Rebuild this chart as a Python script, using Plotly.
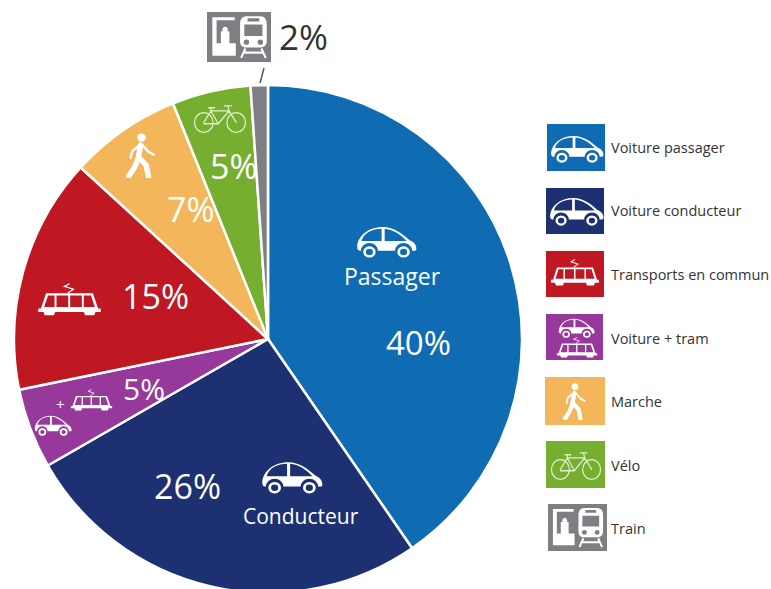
import base64
import plotly.graph_objects as go

W, H = 771, 593

# ---- data ----
categories = ["Voiture passager", "Voiture conducteur", "Transports en commun",
              "Voiture + tram", "Marche", "Vélo", "Train"]
pie_order = ["Voiture passager", "Voiture conducteur", "Voiture + tram",
             "Transports en commun", "Marche", "Vélo", "Train"]
drawn_share = [40.4, 26.3, 5.1, 15.0, 7.1, 5.0, 1.1]   # slice sizes as drawn
printed_pct = [40, 26, 5, 15, 7, 5, 2]                 # percentages as printed
colors = {"Voiture passager": "#0F6CB2", "Voiture conducteur": "#1D3172",
          "Voiture + tram": "#96399A", "Transports en commun": "#BF1823",
          "Marche": "#F4B65B", "Vélo": "#76AF2F", "Train": "#7E7F83"}
FONT = "Open Sans"

# ---- icons ----
def uri(inner, vb):
    svg = f'<svg xmlns="http://www.w3.org/2000/svg" viewBox="{vb}" preserveAspectRatio="none">{inner}</svg>'
    return "data:image/svg+xml;base64," + base64.b64encode(svg.encode()).decode()

CAR = uri('<path fill="#fff" fill-rule="evenodd" d="M2 36C4 18 20 2 44 2C62 2 76 14 88 26C95 29 99 34 99 42'
          'C99 45 96 45 92 45A14 14 0 0 0 64 45L36 45A14 14 0 0 0 8 45C4 45 2 44 2 36Z'
          'M9 27C13 12 27 5 42 5L42 27ZM47 5C60 6 74 16 83 27L47 27Z"/>'
          '<g fill="none" stroke="#fff" stroke-width="4.5"><circle cx="22" cy="47" r="8"/><circle cx="78" cy="47" r="8"/></g>',
          "0 0 100 58")
TRAM = uri('<g fill="none" stroke="#fff" stroke-width="1.8"><path d="M47 15L56 9L42 5L50 1"/></g>'
           '<path fill="#fff" fill-rule="evenodd" d="M14 15H86L94 37H98V42H90L88 47H74L72 42H28L26 47H12L10 42H2V37H6Z'
           'M17 18L11 35H27V18ZM30 18V35H48V18ZM51 18V35H69V18ZM72 18V35H89L83 18Z"/>',
           "0 0 100 48")
WALK = uri('<circle cx="20" cy="6" r="5.5" fill="#fff"/>'
           '<g fill="none" stroke="#fff" stroke-linecap="round" stroke-linejoin="round">'
           '<path stroke-width="7" d="M19 16L16 32L26 43L29 58"/>'
           '<path stroke-width="7" d="M16 33L11 46L3 58"/>'
           '<path stroke-width="3" d="M18 16L8 24L6 33M21 16L29 25L36 29"/></g>', "0 0 40 60")
BIKE = uri('<g fill="none" stroke="#E3F0CF" stroke-width="2" stroke-linejoin="round" stroke-linecap="round">'
           '<circle cx="18" cy="32" r="15.5"/><circle cx="72" cy="32" r="15.5"/>'
           '<path d="M18 32L30 14H60L42 34H18M30 14L42 34M60 14L72 32M58 6L60 14M52 6H64M26 9H36M30 9V14"/></g>',
           "0 0 90 50")
TRAIN = uri('<rect width="60" height="48" fill="#7E7F83"/>'
            '<path fill="#fff" d="M5 5H26V8H9V30H13V18.5H15A2.6 2.6 0 1 1 19 18.5H21V30H27V42H5Z"/>'
            '<path fill="#fff" fill-rule="evenodd" d="M37 4H50C54 4 56 7 56 11V28C56 32 53 34 50 34H37C33 34 31 32 31 28V11'
            'C31 7 33 4 37 4ZM35 12V23H52V12ZM38 6V9H49V6Z"/>'
            '<g fill="#7E7F83"><circle cx="37" cy="29" r="2.5"/><circle cx="50" cy="29" r="2.5"/></g>'
            '<g fill="none" stroke="#fff" stroke-width="2"><path d="M36 35L32 44M51 35L55 44M35 39H52"/></g>', "0 0 60 48")

def img(src, x0, y0, x1, y1):
    return dict(source=src, xref="paper", yref="paper", x=x0 / W, y=1 - y0 / H,
                sizex=(x1 - x0) / W, sizey=(y1 - y0) / H, xanchor="left", yanchor="top",
                sizing="stretch", layer="above")

def txt(t, x, y, size, color="#fff", anchor="center"):
    return dict(text=t, x=x / W, y=1 - y / H, xref="paper", yref="paper", showarrow=False,
                xanchor=anchor, yanchor="middle", font=dict(family=FONT, size=size, color=color))

fig = go.Figure(go.Pie(
    labels=pie_order, values=drawn_share, sort=False, direction="clockwise", rotation=0,
    marker=dict(colors=[colors[c] for c in pie_order], line=dict(color="#fff", width=2.5)),
    textinfo="none", hoverinfo="skip", showlegend=False,
    domain=dict(x=[14 / W, 522 / W], y=[0, 1 - 85 / H]),
))

images = [
    img(CAR, 356, 226, 417, 258), img(CAR, 261, 461, 323, 494), img(CAR, 34, 415, 72, 436),
    img(TRAM, 37, 283, 102, 316), img(TRAM, 70, 389, 113, 411),
    img(WALK, 126, 133, 157, 178), img(BIKE, 193, 102, 247, 134), img(TRAIN, 207, 12, 271, 62),
    img(CAR, 550, 135, 604, 163), img(CAR, 549, 197, 604, 226), img(TRAM, 550, 259, 600, 286),
    img(CAR, 558, 318, 595, 338), img(TRAM, 556, 337, 598, 358),
    img(WALK, 563, 383, 587, 420), img(BIKE, 550, 449, 602, 481), img(TRAIN, 548, 504, 607, 551),
]

swatches = {"Voiture passager": (547, 124, 605, 171), "Voiture conducteur": (546, 188, 604, 234),
            "Transports en commun": (546, 251, 604, 297), "Voiture + tram": (546, 314, 603, 360),
            "Marche": (545, 377, 605, 425), "Vélo": (546, 441, 605, 488), "Train": (548, 504, 607, 551)}
shapes = [dict(type="rect", xref="paper", yref="paper", x0=b[0] / W, x1=b[2] / W, y0=1 - b[1] / H, y1=1 - b[3] / H,
               fillcolor=colors[c], line=dict(width=0), layer="below") for c, b in swatches.items()]
shapes.append(dict(type="line", xref="paper", yref="paper", x0=264 / W, y0=1 - 68 / H, x1=260 / W, y1=1 - 83 / H,
                   line=dict(color="#555", width=1.5)))

pct = dict(zip(pie_order, printed_pct))
annotations = [
    txt(f'{pct["Voiture passager"]}%', 419, 342, 33),
    txt("Passager", 392, 276, 23),
    txt(f'{pct["Voiture conducteur"]}%', 187, 486, 34),
    txt("Conducteur", 301, 516, 21),
    txt(f'{pct["Voiture + tram"]}%', 144, 388, 30),
    txt("+", 60, 404, 15),
    txt(f'{pct["Transports en commun"]}%', 155, 296, 34),
    txt(f'{pct["Marche"]}%', 191, 209, 34),
    txt(f'{pct["Vélo"]}%', 234, 166, 34),
    txt(f'{pct["Train"]}%', 303, 36, 35, "#333", "center"),
]
for c, y in zip(categories, [147, 211, 274, 338, 401, 465, 528]):
    annotations.append(txt(c, 609, y, 14.5, "#333", "left"))

fig.update_layout(width=W, height=H, margin=dict(l=0, r=0, t=0, b=0), paper_bgcolor="#fff",
                  images=images, shapes=shapes, annotations=annotations)
fig.write_html("out.html", config=dict(displayModeBar=False),
               post_script="document.body.style.margin='0';document.documentElement.style.overflow='hidden';")
